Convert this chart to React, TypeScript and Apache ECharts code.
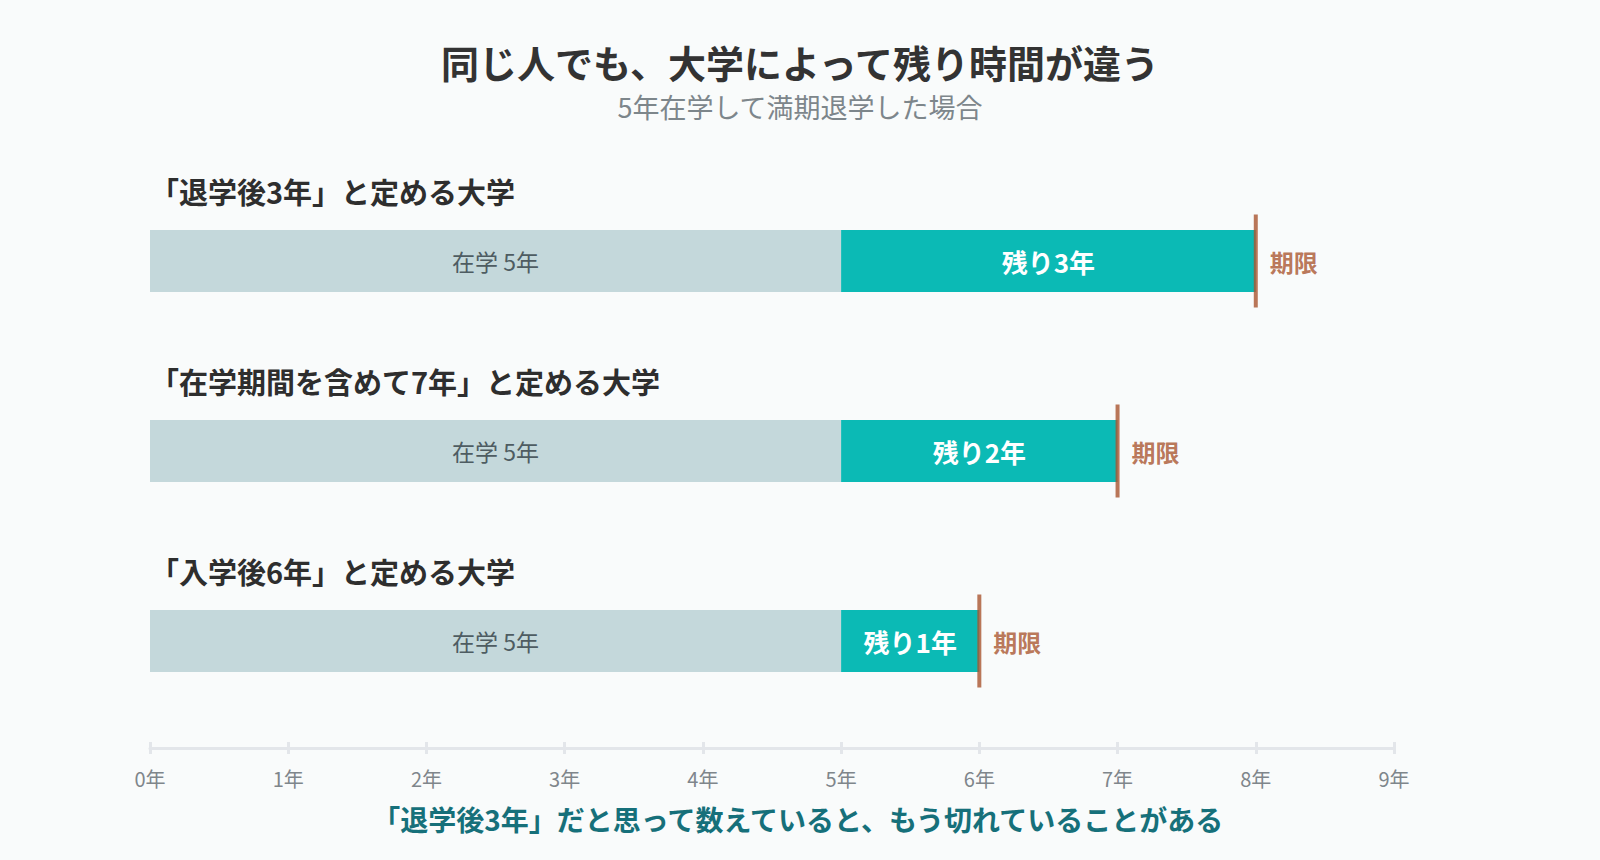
import { useEffect, useRef } from 'react';
import * as echarts from 'echarts';

const rowTitles = [
  '「退学後3年」と定める大学',
  '「在学期間を含めて7年」と定める大学',
  '「入学後6年」と定める大学',
];
const enrolledYears = [5, 5, 5];
const remainingYears = [3, 2, 1];
const deadlineYears = [8, 7, 6];
const tickLabels = ['0年', '1年', '2年', '3年', '4年', '5年', '6年', '7年', '8年', '9年'];

const FONT = '"Noto Sans CJK JP", "Noto Sans", sans-serif';
const DEADLINE = '#a9552f';

export default function App() {
  const chartRef = useRef<HTMLDivElement>(null);

  useEffect(() => {
    document.body.style.margin = '0';
    if (!chartRef.current) return;
    const chart = echarts.init(chartRef.current, null, { renderer: 'svg' });

    const option: any = {
      animation: false,
      backgroundColor: '#f9fbfb',
      textStyle: { fontFamily: FONT },
      title: {
        text: '同じ人でも、大学によって残り時間が違う',
        subtext: '5年在学して満期退学した場合',
        left: 'center',
        top: 41,
        padding: 0,
        itemGap: 11,
        textStyle: { fontFamily: FONT, fontSize: 38, fontWeight: 'bold', color: '#333333', lineHeight: 40 },
        subtextStyle: { fontFamily: FONT, fontSize: 27, color: '#7d868b', lineHeight: 28 },
      },
      grid: { left: 150, right: 206, top: 166, height: 570 },
      xAxis: [
        {
          type: 'value',
          min: 0,
          max: 9,
          interval: 1,
          offset: 12,
          axisLine: { show: true, lineStyle: { color: '#e3e6ea', width: 3 } },
          axisTick: { show: true, inside: true, length: 6, lineStyle: { color: '#e3e6ea', width: 3 } },
          splitLine: { show: false },
          axisLabel: {
            margin: 20,
            fontFamily: FONT,
            fontSize: 20,
            color: '#7f868b',
            formatter: (v: number) => tickLabels[v] ?? '',
          },
        },
        {
          type: 'value',
          min: 0,
          max: 9,
          interval: 1,
          offset: 12,
          position: 'bottom',
          axisLine: { show: false },
          axisTick: { show: true, length: 6, lineStyle: { color: '#e3e6ea', width: 3 } },
          splitLine: { show: false },
          axisLabel: { show: false },
        },
      ],
      yAxis: {
        type: 'category',
        inverse: true,
        data: rowTitles,
        axisLine: { show: false },
        axisTick: { show: false },
        axisLabel: { show: false },
        splitLine: { show: false },
      },
      series: [
        {
          type: 'bar',
          stack: 'years',
          barWidth: 62,
          data: enrolledYears,
          itemStyle: { color: '#c4d8db' },
          label: {
            show: true,
            position: 'inside',
            fontFamily: FONT,
            fontSize: 23,
            color: '#4e5c62',
            formatter: (p: any) => `在学 ${p.value}年`,
          },
        },
        {
          type: 'bar',
          stack: 'years',
          barWidth: 62,
          data: remainingYears,
          itemStyle: { color: '#0bbab5' },
          label: {
            show: true,
            position: 'inside',
            fontFamily: FONT,
            fontSize: 26,
            fontWeight: 'bold',
            color: '#ffffff',
            formatter: (p: any) => `残り${p.value}年`,
          },
        },
        {
          type: 'scatter',
          symbol: 'rect',
          symbolSize: [4, 93],
          data: deadlineYears.map((v, i) => [v, i]),
          itemStyle: { color: DEADLINE },
          z: 5,
          label: {
            show: true,
            position: 'right',
            distance: 12,
            fontFamily: FONT,
            fontSize: 24,
            fontWeight: 'bold',
            color: DEADLINE,
            formatter: () => '期限',
          },
        },
        {
          type: 'custom',
          data: rowTitles.map((_, i) => [0, i]),
          renderItem: (params: any, api: any) => {
            const p = api.coord([0, api.value(1)]);
            return {
              type: 'text',
              x: p[0],
              y: p[1] - 70,
              style: {
                text: rowTitles[params.dataIndex],
                fontFamily: FONT,
                fontSize: 29,
                fontWeight: 'bold',
                fill: '#2e2e2e',
                align: 'left',
                verticalAlign: 'middle',
              },
            };
          },
        },
      ],
      graphic: [
        {
          type: 'text',
          left: 'center',
          top: 805,
          style: {
            text: '「退学後3年」だと思って数えていると、もう切れていることがある',
            fontFamily: FONT,
            fontSize: 28,
            fontWeight: 'bold',
            fill: '#16707a',
          },
        },
      ],
    };

    chart.setOption(option);
    return () => chart.dispose();
  }, []);

  return <div ref={chartRef} style={{ width: 1600, height: 860 }} />;
}
